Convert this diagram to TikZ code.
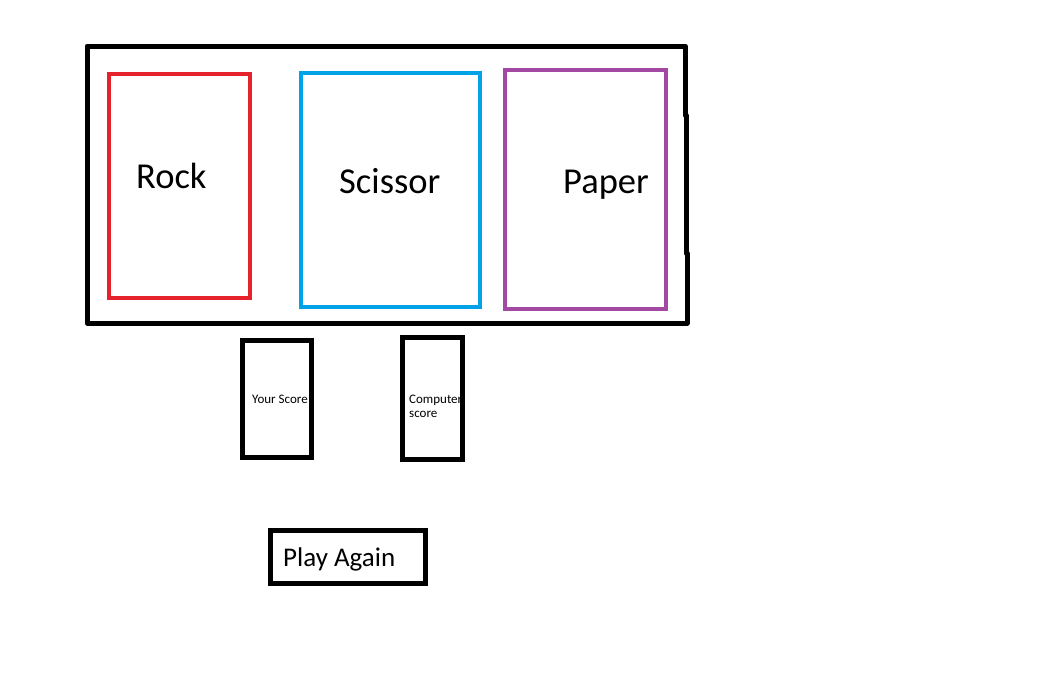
\documentclass[tikz,border=0pt]{standalone}
\usepackage{fontspec}
\setmainfont{Carlito}
\definecolor{rockred}{HTML}{E5222B}
\definecolor{sciblue}{HTML}{00A2E8}
\definecolor{paperpurple}{HTML}{A349A4}
\begin{document}
\begin{tikzpicture}[x=1pt,y=-1pt,
  box/.style={draw,rectangle,inner sep=0pt,outer sep=0pt,anchor=north west},
  choice/.style={box,line width=4pt},
  blackbox/.style={box,line width=5pt,draw=black},
  lbl/.style={inner sep=0pt,anchor=base west,text=black}]
\useasboundingbox (0,0) rectangle (1045,680);
% outer frame
\draw[line width=5pt,line cap=round,line join=round]
  (87,46) -- (685,46) -- (685,115) -- (686,115) -- (686,253) -- (687,253) -- (687,323) -- (87,323) -- cycle;
% choice boxes
\node[choice,draw=rockred,minimum width=141pt,minimum height=224pt] (rock) at (109,74) {};
\node[choice,draw=sciblue,minimum width=179pt,minimum height=234pt] (scissor) at (301,73) {};
\node[choice,draw=paperpurple,minimum width=161pt,minimum height=239pt] (paper) at (505,70) {};
\node[lbl,font=\fontsize{36.5}{40}\selectfont] (rocktxt) at (136,188) {Rock};
\node[lbl,font=\fontsize{36.5}{40}\selectfont] (scissortxt) at (339,193) {Scissor};
\node[lbl,font=\fontsize{36.5}{40}\selectfont] (papertxt) at (563,193) {Paper};
% score boxes
\node[blackbox,minimum width=69pt,minimum height=117pt] (your) at (242,340) {};
\node[blackbox,minimum width=60pt,minimum height=122pt] (comp) at (402,337) {};
\node[lbl,font=\fontsize{13}{14}\selectfont] (yourtxt) at (252,403) {Your Score};
\node[lbl,font=\fontsize{13}{14}\selectfont] (comptxt1) at (409,403) {Computer};
\node[lbl,font=\fontsize{13}{14}\selectfont] (comptxt2) at (409,417) {score};
% play again
\node[blackbox,minimum width=155pt,minimum height=53pt] (play) at (270,530) {};
\node[lbl,font=\fontsize{27}{30}\selectfont] (playtxt) at (283,566) {Play Again};
\end{tikzpicture}
\end{document}
